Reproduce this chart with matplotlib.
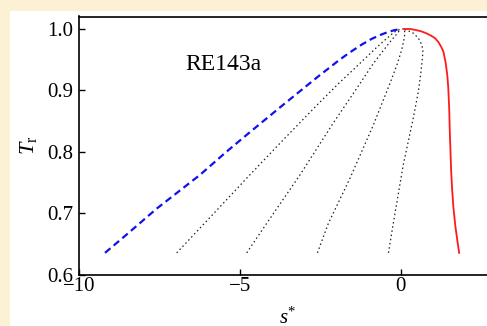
import matplotlib
matplotlib.use("Agg")
import matplotlib.pyplot as plt
from matplotlib.patches import Rectangle

plt.rcParams['font.family'] = ['Liberation Serif', 'DejaVu Serif']
plt.rcParams['mathtext.fontset'] = 'custom'
plt.rcParams['mathtext.rm'] = 'Liberation Serif'
plt.rcParams['mathtext.it'] = 'Liberation Serif:italic'

# saturated vapour branch (blue dashed)
s_vap = [-9.2, -8.5, -7.59, -6.24, -5.43, -4.72, -3.65, -2.61, -1.9, -1.58, -1.2, -0.9, -0.6, -0.4, -0.2, 0.0]
t_vap = [0.636, 0.667, 0.708, 0.763, 0.80, 0.831, 0.877, 0.921, 0.950, 0.962, 0.975, 0.984, 0.991, 0.995, 0.998, 1.0]

# saturated liquid branch (red solid)
s_liq = [0.08, 0.3, 0.5, 0.65, 0.8, 0.95, 1.07, 1.17, 1.26, 1.33, 1.40, 1.45, 1.48, 1.51, 1.53, 1.55, 1.57, 1.60, 1.64, 1.70, 1.76, 1.82]
t_liq = [1.0, 1.0, 0.998, 0.996, 0.993, 0.989, 0.985, 0.979, 0.971, 0.963, 0.945, 0.925, 0.905, 0.87, 0.83, 0.80, 0.77, 0.74, 0.71, 0.68, 0.657, 0.636]

# intermediate dotted curves
s_d1 = [-0.38, -0.23, -0.08, 0.08, 0.24, 0.39, 0.55, 0.63, 0.68, 0.69, 0.66, 0.55, 0.4, 0.2, 0.05]
t_d1 = [0.636, 0.684, 0.73, 0.779, 0.818, 0.855, 0.898, 0.93, 0.955, 0.965, 0.974, 0.985, 0.993, 0.998, 1.0]
s_d2 = [-2.59, -2.25, -1.58, -0.85, -0.33, -0.1, 0.03, 0.1, 0.13, 0.12, 0.08]
t_d2 = [0.636, 0.684, 0.757, 0.844, 0.912, 0.944, 0.966, 0.982, 0.992, 0.997, 1.0]
s_d3 = [-4.79, -4.17, -3.13, -2.1, -1.27, -0.85, -0.54, -0.3, -0.12, -0.03, 0.0]
t_d3 = [0.636, 0.684, 0.763, 0.847, 0.911, 0.944, 0.965, 0.981, 0.992, 0.998, 1.0]
s_d4 = [-6.97, -5.8, -4.69, -3.65, -2.61, -1.9, -1.45, -1.05, -0.75, -0.45, -0.2, 0.0]
t_d4 = [0.636, 0.701, 0.763, 0.820, 0.876, 0.913, 0.935, 0.955, 0.97, 0.984, 0.995, 1.0]

fig = plt.figure(figsize=(4.87, 3.26), dpi=100)
fig.patch.set_facecolor('#fdf1d5')
fig.patches.append(Rectangle((10 / 487, 0), 1, 1 - 11 / 326, transform=fig.transFigure,
                             facecolor='white', edgecolor='none', zorder=-10))

ax = fig.add_axes([79.3 / 487, 1 - 275 / 326, (497.1 - 79.3) / 487, (275 - 16.5) / 326])
ax.set_facecolor('white')

for s, t in [(s_d1, t_d1), (s_d2, t_d2), (s_d3, t_d3), (s_d4, t_d4)]:
    ax.plot(s, t, color='#222222', lw=0.9, linestyle=(0, (1.2, 2.2)))
ax.plot(s_vap, t_vap, color='#1010f0', lw=1.6, linestyle=(0, (3.2, 1.9)))
ax.plot(s_liq, t_liq, color='#ff1a1a', lw=1.3)

ax.set_xlim(-10, 3)
ax.set_ylim(0.6, 1.0203)
ax.set_xticks([-10, -5, 0])
ax.set_yticks([0.6, 0.7, 0.8, 0.9, 1.0])
ax.set_yticklabels(['0.6', '0.7', '0.8', '0.9', '1.0'])
ax.tick_params(direction='in', length=4, width=1, labelsize=15, pad=4.5)
ax.tick_params(axis='x', pad=1.5)
for sp in ax.spines.values():
    sp.set_linewidth(1.2)

ax.text(-6.71, 0.934, 'RE143a', fontsize=17)
ax.set_xlabel(r'$s^{*}$', fontsize=15, labelpad=8)
ax.set_ylabel(r'$T_{\rm r}$', fontsize=16, labelpad=6)

fig.savefig('out.png', dpi=100, facecolor=fig.get_facecolor())
